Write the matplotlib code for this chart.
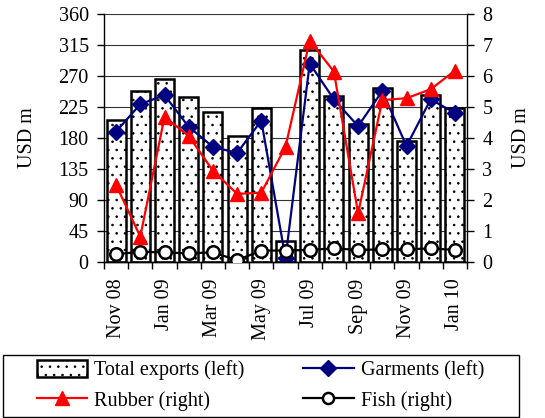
import numpy as np
import matplotlib.pyplot as plt
from matplotlib.patches import Patch, Rectangle
from matplotlib.lines import Line2D

plt.rcParams['font.family'] = ['Liberation Serif', 'DejaVu Serif']
plt.rcParams['hatch.linewidth'] = 0.6
plt.rcParams['hatch.color'] = '#333333'

# ── DATA ───────────────────────────────────────────────────────
months = ["Nov 08", "Dec 08", "Jan 09", "Feb 09", "Mar 09", "Apr 09", "May 09",
          "Jun 09", "Jul 09", "Aug 09", "Sep 09", "Oct 09", "Nov 09", "Dec 09", "Jan 10"]
total_exports = [206, 248, 265, 239, 218, 182, 224, 30, 308, 241, 200, 253, 176, 243, 224]
garments = [189, 229, 242, 196, 167, 158, 205, 5, 288, 236, 197, 248, 168, 236, 216]
rubber = [2.48, 0.81, 4.68, 4.06, 2.94, 2.19, 2.23, 3.71, 7.14, 6.14, 1.56, 5.22, 5.28, 5.57, 6.17]
fish = [0.24, 0.32, 0.30, 0.27, 0.30, 0.05, 0.36, 0.36, 0.38, 0.43, 0.38, 0.40, 0.40, 0.43, 0.38]

FS = 14.5
x = np.arange(len(months))

fig = plt.figure(figsize=(5.45, 4.18), dpi=100)
ax = fig.add_axes([104 / 545, 1 - 261.7 / 418, 363 / 545, 247.7 / 418])
ax2 = ax.twinx()

# gridlines behind bars
ax.set_axisbelow(True)
ax.yaxis.grid(True, color='#333333', linewidth=0.8)

ax.bar(x, total_exports, width=0.78, facecolor='white', edgecolor='black',
       linewidth=1.8, hatch='..', zorder=2)
ax.plot(x, garments, color='#000080', linewidth=1.6, marker='D',
        markersize=8, markerfacecolor='#000080', markeredgecolor='#000080', zorder=3)

ax2.plot(x, rubber, color='#FF0000', linewidth=1.6, marker='^',
         markersize=10, markerfacecolor='#FF0000', markeredgecolor='#FF0000', zorder=3)
ax2.plot(x, fish, color='black', linewidth=1.6, marker='o', markersize=9,
         markerfacecolor='white', markeredgecolor='black', markeredgewidth=1.8, zorder=4)

ax.set_xlim(-0.5, len(months) - 0.5)
ax.set_ylim(0, 360)
ax2.set_ylim(0, 8)
ax.set_yticks(np.arange(0, 361, 45))
ax2.set_yticks(np.arange(0, 9, 1))

# x: label every other month, ticks at category boundaries
ax.set_xticks(x[::2])
ax.set_xticklabels(months[::2], rotation=90)
ax.tick_params(axis='x', length=0, pad=12)
ax.set_xticks(np.arange(-0.5, len(months), 1), minor=True)
ax.tick_params(axis='x', which='minor', length=5, width=1, direction='out')

for a in (ax, ax2):
    a.tick_params(axis='y', labelsize=FS, length=5, width=1, direction='out', pad=6)
    a.tick_params(axis='x', labelsize=FS)
    a.spines['top'].set_visible(False)
    for s in ('left', 'right', 'bottom'):
        a.spines[s].set_linewidth(1)
ax.spines['right'].set_visible(False)
ax2.spines['left'].set_visible(False)

ax.set_ylabel("USD m", fontsize=FS)
ax2.set_ylabel("USD m", fontsize=FS)
ax.yaxis.set_label_coords(-0.185, 0.5)
ax2.yaxis.set_label_coords(1.125, 0.5)

# ── LEGEND ─────────────────────────────────────────────────────
fig.patches.append(Rectangle((3 / 545, 1 / 418), 516 / 545, 62 / 418,
                             transform=fig.transFigure, facecolor='none',
                             edgecolor='black', linewidth=1))
handles = [
    Patch(facecolor='white', edgecolor='black', linewidth=1.8, hatch='..'),
    Line2D([], [], color='#FF0000', linewidth=1.6, marker='^', markersize=10),
    Line2D([], [], color='#000080', linewidth=1.6, marker='D', markersize=8),
    Line2D([], [], color='black', linewidth=1.6, marker='o', markersize=8,
           markerfacecolor='white', markeredgewidth=1.8),
]
labels = ["Total exports (left)", "Rubber (right)", "Garments (left)", "Fish (right)"]
fig.legend(handles, labels, loc='upper left', ncol=2,
           bbox_to_anchor=(37 / 545, 1 - 360 / 418),
           fontsize=FS, frameon=False, borderpad=0, borderaxespad=0,
           handlelength=2.5, handleheight=0.9, handletextpad=0.35,
           labelspacing=0.5, columnspacing=2.9)

fig.savefig("out.png", dpi=100)
